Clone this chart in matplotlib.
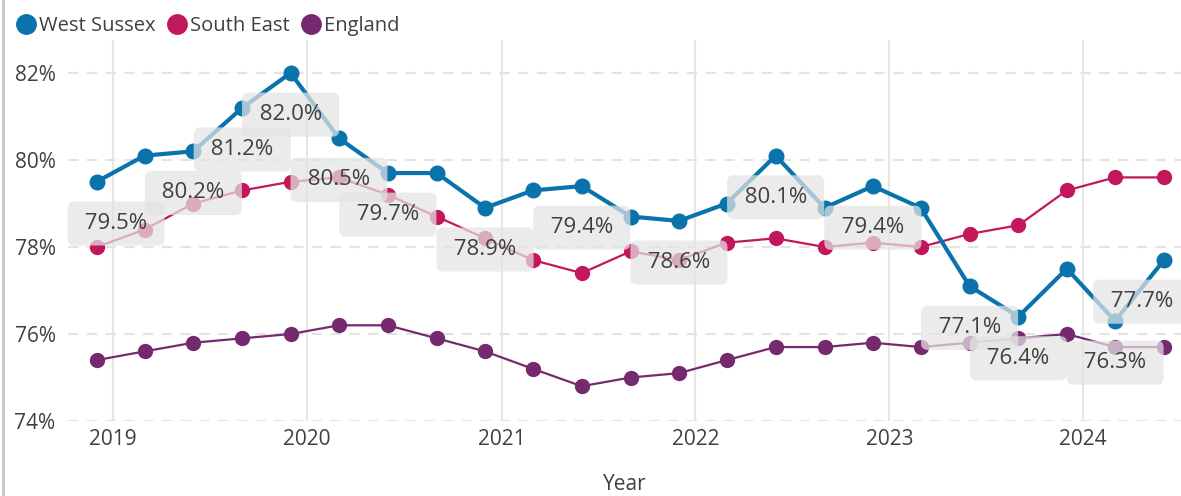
import pandas as pd
import matplotlib
matplotlib.use("Agg")
import matplotlib.pyplot as plt
import matplotlib.dates as mdates
from matplotlib.lines import Line2D

plt.rcParams['font.family'] = ['Open Sans', 'DejaVu Sans']

# quarterly figures, Dec 2018 to Jun 2024
periods = ["2018-12-01", "2019-03-01", "2019-06-01", "2019-09-01", "2019-12-01",
           "2020-03-01", "2020-06-01", "2020-09-01", "2020-12-01", "2021-03-01",
           "2021-06-01", "2021-09-01", "2021-12-01", "2022-03-01", "2022-06-01",
           "2022-09-01", "2022-12-01", "2023-03-01", "2023-06-01", "2023-09-01",
           "2023-12-01", "2024-03-01", "2024-06-01"]

west_sussex = [79.5, 80.1, 80.2, 81.2, 82.0, 80.5, 79.7, 79.7, 78.9, 79.3, 79.4, 78.7,
               78.6, 79.0, 80.1, 78.9, 79.4, 78.9, 77.1, 76.4, 77.5, 76.3, 77.7]
south_east = [78.0, 78.4, 79.0, 79.3, 79.5, 79.6, 79.2, 78.7, 78.2, 77.7, 77.4, 77.9,
              77.7, 78.1, 78.2, 78.0, 78.1, 78.0, 78.3, 78.5, 79.3, 79.6, 79.6]
england = [75.4, 75.6, 75.8, 75.9, 76.0, 76.2, 76.2, 75.9, 75.6, 75.2, 74.8, 75.0,
           75.1, 75.4, 75.7, 75.7, 75.8, 75.7, 75.8, 75.9, 76.0, 75.7, 75.7]

# West Sussex points that carry a data label
labelled = [0, 2, 3, 4, 5, 6, 8, 10, 12, 14, 16, 18, 19, 21, 22]

dates = pd.to_datetime(periods)

blue = "#0A73AB"
pink = "#C2185B"
purple = "#752A6F"
text_col = "#404040"

fig = plt.figure(figsize=(11.81, 4.96), dpi=100)
ax = fig.add_axes([68/1181, 75/496, 1 - 68/1181, 381/496])

ax.plot(dates, england, color=purple, lw=1.6, marker="o", ms=10, zorder=2)
ax.plot(dates, south_east, color=pink, lw=1.6, marker="o", ms=10, zorder=2)
ax.plot(dates, west_sussex, color=blue, lw=3, marker="o", ms=10.5, zorder=3)

for i in labelled:
    dx = 0
    if i == 0:
        dx = 14
    if i == len(dates) - 1:
        dx = -16
    ax.annotate(" %.1f%% " % west_sussex[i], (dates[i], west_sussex[i]),
                xytext=(dx, -30), textcoords="offset points",
                ha="center", va="center", fontsize=16, color=text_col, zorder=6,
                bbox=dict(boxstyle="round,pad=0.52,rounding_size=0.3",
                          fc="#e4e4e4", ec="none", alpha=0.72),
                annotation_clip=False)

ax.set_ylim(74, 74 + 381/43.5)
ax.set_xlim(pd.Timestamp("2018-10-08"), pd.Timestamp("2024-07-03"))
ax.set_yticks([74, 76, 78, 80, 82])
ax.set_yticklabels(["74%", "76%", "78%", "80%", "82%"])
ax.xaxis.set_major_locator(mdates.YearLocator())
ax.xaxis.set_major_formatter(mdates.DateFormatter("%Y"))

ax.grid(axis="y", color="#e3e3e3", lw=1.5, ls=(0, (5, 4)))
ax.grid(axis="x", color="#e6e6e6", lw=1.5)
ax.set_axisbelow(True)
for s in ax.spines.values():
    s.set_visible(False)
ax.tick_params(length=0, labelsize=15, labelcolor=text_col)
ax.tick_params(axis="y", pad=9)
ax.tick_params(axis="x", pad=6)
ax.set_xlabel("Year", fontsize=15, color=text_col, labelpad=17)

handles = [Line2D([], [], color=c, marker="o", ls="none", ms=14) for c in (blue, pink, purple)]
fig.legend(handles, ["West Sussex", "South East", "England"], loc="upper left",
           bbox_to_anchor=(-0.005, 1.005), ncol=3, frameon=False, fontsize=14.5,
           handletextpad=-0.05, columnspacing=0.35, handlelength=1.4, labelcolor=text_col)

fig.add_artist(Line2D([3/1181, 3/1181], [0, 1], transform=fig.transFigure,
                      color="#c8c8c8", lw=2))

fig.savefig("out.png", dpi=100)
